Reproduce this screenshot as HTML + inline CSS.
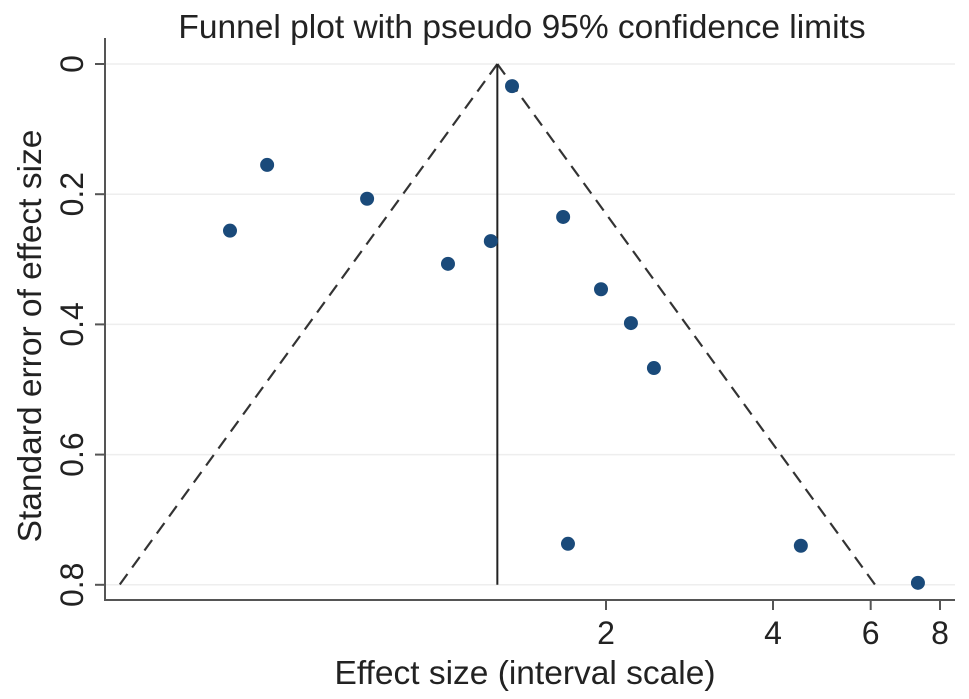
<!DOCTYPE html>
<html><head><meta charset="utf-8"><style>
body{margin:0;background:#fff;}
svg{display:block;font-family:"Liberation Sans",sans-serif;}
</style></head><body>
<svg id="chart" width="969" height="699">
<text x="522" y="38" font-size="33.5" text-anchor="middle" fill="#222">Funnel plot with pseudo 95% confidence limits</text>
<g id="grid"></g>
<line x1="105" y1="38" x2="105" y2="601" stroke="#555" stroke-width="2"/>
<line x1="104" y1="600" x2="955" y2="600" stroke="#555" stroke-width="2"/>
<g id="marks"></g>
<text x="525" y="684" font-size="33.5" text-anchor="middle" fill="#222">Effect size (interval scale)</text>
<text transform="translate(41,336) rotate(-90)" font-size="33.5" text-anchor="middle" fill="#222">Standard error of effect size</text>
</svg>
<script>
const effects=[1.354,0.49,0.742,0.42,1.038,1.24,1.674,1.959,2.218,2.44,1.708,4.49,7.3];
const ses=[0.034,0.155,0.207,0.256,0.307,0.272,0.235,0.346,0.398,0.467,0.737,0.740,0.797];
const pooled=[1.274];
const yTicks=[0,0.2,0.4,0.6,0.8];
const xTicks=[2,4,6,8];
const NS="http://www.w3.org/2000/svg";
function xs(v){return 606+167*Math.log2(v/2);}
function ys(v){return 64+651*v;}
function mk(tag,attrs,parent){const e=document.createElementNS(NS,tag);for(const k in attrs)e.setAttribute(k,attrs[k]);parent.appendChild(e);return e;}
const grid=document.getElementById('grid'),marks=document.getElementById('marks'),svg=document.getElementById('chart');
yTicks.forEach(t=>{
 const g=mk('line',{x1:106,x2:955,y1:ys(t),y2:ys(t),stroke:'#eeeeee','stroke-width':1.5},grid);
 
 
 const tk=mk('line',{x1:95,x2:105,y1:ys(t),y2:ys(t),stroke:'#555','stroke-width':2},svg);
 
 
 const tx=mk('text',{transform:`translate(83,${ys(t)}) rotate(-90)`,'font-size':32,'text-anchor':'middle',fill:'#222'},svg);
 tx.textContent=String(t);
 
 
});
xTicks.forEach(t=>{
 const tk=mk('line',{x1:xs(t),x2:xs(t),y1:600,y2:610,stroke:'#555','stroke-width':2},svg);
 
 
 const tx=mk('text',{x:xs(t),y:644,'font-size':32,'text-anchor':'middle',fill:'#222'},svg);
 tx.textContent=String(t);
 
 
});
const p=pooled[0],seMax=0.8,lp=Math.log(p);
const lo=Math.exp(lp-1.96*seMax),hi=Math.exp(lp+1.96*seMax);
const l1=mk('line',{x1:xs(p),y1:ys(0),x2:xs(lo),y2:ys(seMax),stroke:'#333','stroke-width':2.2,'stroke-dasharray':'13,8'},marks);


const l2=mk('line',{x1:xs(p),y1:ys(0),x2:xs(hi),y2:ys(seMax),stroke:'#333','stroke-width':2.2,'stroke-dasharray':'13,8'},marks);


const vl=mk('line',{x1:xs(p),y1:ys(0),x2:xs(p),y2:ys(seMax),stroke:'#222','stroke-width':2},marks);


effects.forEach((e,i)=>{
 const c=mk('circle',{cx:xs(e),cy:ys(ses[i]),r:7,fill:'#1a4a7a'},marks);
 
 
});
</script>
</body></html>
